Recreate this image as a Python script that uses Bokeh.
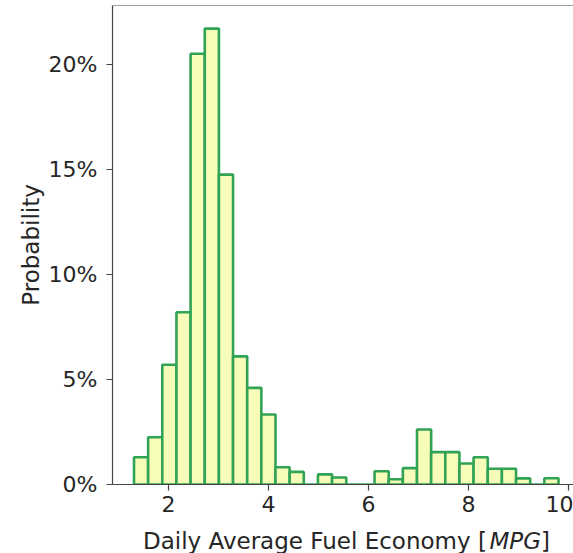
import numpy as np
from bokeh.plotting import figure
from bokeh.layouts import column
from bokeh.models import (ColumnDataSource, FixedTicker, NumeralTickFormatter,
                          Range1d, Span)
from bokeh.core.properties import value
from bokeh.embed import file_html
from bokeh.resources import INLINE

# Histogram of daily average fuel economy: 30 equal-width bins
bin_start = 1.31
bin_end = 9.80
n_bins = 30
probability = [0.013, 0.0225, 0.057, 0.082, 0.205, 0.217, 0.1475, 0.061,
               0.046, 0.0333, 0.0082, 0.006, 0.0, 0.0048, 0.0033, 0.0,
               0.0, 0.0063, 0.0025, 0.0078, 0.0262, 0.0154, 0.0154, 0.010,
               0.013, 0.0075, 0.0075, 0.0029, 0.0, 0.003]
x_ticks = [2, 4, 6, 8, 10]
y_ticks = [0.0, 0.05, 0.10, 0.15, 0.20]
x_title = ["Daily Average Fuel Economy [", "MPG", "]"]

edges = np.linspace(bin_start, bin_end, n_bins + 1)
src = ColumnDataSource(dict(left=edges[:-1], right=edges[1:],
                            top=probability, bottom=[0.0] * n_bins))

FONT = "DejaVu Sans"
TXT = "#262626"
AX = "#444444"
FS = 22
FS_T = 23
W = 573
LEFT = 112

p = figure(frame_width=W - LEFT, frame_height=479,
           min_border_left=LEFT, min_border_right=0,
           min_border_top=5, min_border_bottom=36,
           x_range=Range1d(0.88, 10.10), y_range=Range1d(0.0, 0.228),
           output_backend="svg", toolbar_location=None)

p.quad(left="left", right="right", top="top", bottom="bottom", source=src,
       fill_color="#f7fcb9", line_color="#31a354", line_width=2.6)

p.grid.visible = False
p.outline_line_color = None
p.background_fill_color = "white"
p.border_fill_color = "white"

# top spine
p.add_layout(Span(location=0.228, dimension="width", line_color=AX,
                  line_width=1.2))

for ax in (p.xaxis[0], p.yaxis[0]):
    ax.axis_line_color = AX
    ax.axis_line_width = 1.2
    ax.major_tick_line_color = AX
    ax.major_tick_line_width = 1.2
    ax.major_tick_out = 6
    ax.major_tick_in = 0
    ax.minor_tick_line_color = None
    ax.major_label_text_font = FONT
    ax.major_label_text_font_size = f"{FS}px"
    ax.major_label_text_color = TXT
    ax.axis_label_text_font = FONT
    ax.axis_label_text_font_size = f"{FS_T}px"
    ax.axis_label_text_font_style = "normal"
    ax.axis_label_text_color = TXT

p.xaxis.ticker = FixedTicker(ticks=x_ticks)
p.xaxis.major_label_standoff = 5
p.yaxis.ticker = FixedTicker(ticks=y_ticks)
p.yaxis.formatter = NumeralTickFormatter(format="0%")
p.yaxis.major_label_standoff = 9
p.yaxis.axis_label = "Probability"
p.yaxis.axis_label_standoff = 2

# strip under the chart carrying the x-axis title (unit in italics);
# its x range is in page pixels so the title can be centred under the axes
H_T = 553 - (5 + 479 + 36)
t = figure(frame_width=W - LEFT, frame_height=H_T,
           min_border_left=LEFT, min_border_right=0,
           min_border_top=0, min_border_bottom=0,
           x_range=Range1d(LEFT, W), y_range=Range1d(0, H_T),
           output_backend="svg", toolbar_location=None)
t.axis.visible = False
t.grid.visible = False
t.outline_line_color = None
t.background_fill_color = "white"
t.border_fill_color = "white"

em = [15.066, 2.241, 0.390]          # advance widths in em (DejaVu Sans)
widths = [e * FS_T for e in em]
x_start = 346 - sum(widths) / 2
styles = ["normal", "italic", "normal"]
cx = x_start
for s, w, st in zip(x_title, widths, styles):
    t.text(x=[cx], y=[H_T - 20], text=[s], text_font=value(FONT),
           text_font_size=f"{FS_T}px", text_font_style=st,
           text_color=TXT, text_align="left", text_baseline="middle")
    cx += w

layout = column(p, t, spacing=0)
open("out.html", "w").write(file_html(layout, INLINE))
